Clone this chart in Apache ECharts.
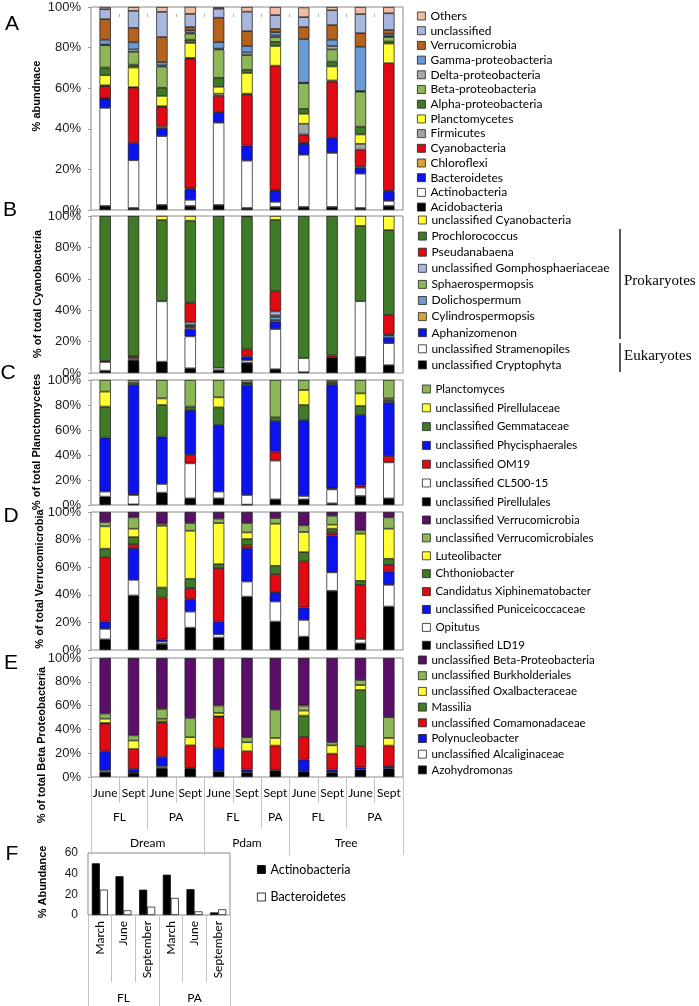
<!DOCTYPE html>
<html><head><meta charset="utf-8">
<script src="https://cdn.jsdelivr.net/npm/echarts@6/dist/echarts.min.js"></script>
<style>html,body{margin:0;padding:0;background:#fff}#c{width:699px;height:1006px}</style>
</head><body><div id="c"></div>
<script>
// ---------- categories ----------
const months    = ['June','Sept','June','Sept','June','Sept','Sept','June','Sept','June','Sept'];
const fractions = ['FL','FL','PA','PA','FL','FL','PA','FL','FL','PA','PA'];
const sites     = ['Dream','Dream','Dream','Dream','Pdam','Pdam','Pdam','Tree','Tree','Tree','Tree'];

// ---------- Panel A: phyla (% abundance), bottom -> top ----------
const A_Acidobacteria   = [2, 1, 2.5, 2, 2.5, 1, 1.5, 1.5, 1.5, 1, 2];
const A_Actinobacteria  = [48.3, 23.5, 33.9, 3, 40.5, 23.3, 2.5, 25.7, 26.6, 16.9, 2.5];
const A_Bacteroidetes   = [4.6, 8.4, 4, 5.2, 5.2, 7.4, 5.5, 5.4, 7.5, 2.9, 4.7];
const A_Chloroflexi     = [0.2, 0, 1, 0.4, 0, 0, 0.4, 0.4, 0, 0.8, 0.3];
const A_Cyanobacteria   = [5.9, 27.3, 9.3, 64, 8, 25, 61.2, 4.2, 27.6, 8.1, 62.8];
const A_Firmicutes      = [0.4, 0.3, 0.4, 0.3, 1.1, 0.6, 0, 5.3, 0.6, 2.9, 0];
const A_Planctomycetes  = [5, 9.7, 5.1, 7.4, 3.4, 10.2, 9.7, 4.9, 6.9, 4.6, 9.7];
const A_Alpha           = [3.8, 1.4, 4, 1.6, 4.4, 1.6, 2, 2.4, 2.4, 3.8, 1];
const A_Beta            = [11, 6.3, 10.5, 3, 14, 7.2, 2.4, 12.7, 6, 17.3, 2.2];
const A_Delta           = [0.3, 1.2, 0.5, 0.5, 0.4, 1.3, 0.8, 0.2, 1.7, 0.3, 0.5];
const A_Gamma           = [2.4, 3.5, 1.6, 1.2, 3.2, 3.2, 1.6, 21.5, 3.1, 21.8, 1.1];
const A_Verrucomicrobia = [10.1, 7.1, 12.4, 1.5, 12, 7.3, 1.6, 5.9, 7.2, 6.7, 1.9];
const A_unclassified    = [4.9, 8.4, 12.4, 6.5, 4.4, 9.6, 6.8, 4.9, 7.3, 9.4, 8.2];
const A_Others          = [1.1, 1.9, 2.4, 3.5, 0.8, 2.3, 4, 4.8, 1.6, 3.5, 3.1];

// ---------- Panel B: % of total Cyanobacteria ----------
const B_Cryptophyta   = [1.5, 8.3, 7.2, 3, 1.8, 6.5, 2.4, 0.5, 10, 10.3, 5];
const B_Stramenopiles = [5.5, 1, 38.5, 20.3, 1.5, 1.5, 25.6, 9, 0, 35.4, 14];
const B_Aphanizomenon = [0, 0, 0, 4.7, 0, 2.5, 4.7, 0, 0, 0, 3.5];
const B_Cylindro      = [0, 0, 0, 1.2, 0, 0, 1, 0, 0, 0, 0];
const B_Dolicho       = [0, 0, 0, 0.8, 0, 0, 2, 0, 0, 0, 1.5];
const B_Sphaero       = [0, 0, 0, 0.8, 0, 0, 1, 0, 0, 0, 0];
const B_Gompho        = [0, 0, 0, 1.7, 0, 0, 2.5, 0, 0, 0, 0.5];
const B_Pseudanabaena = [0.7, 1.5, 0, 12.2, 0, 4.5, 12.8, 0, 1.2, 0, 12.5];
const B_Prochloro     = [92.3, 89.2, 51.7, 52.3, 96.7, 84.5, 45.5, 90.5, 88.8, 48, 54];
const B_unclCyano     = [0, 0, 2.6, 3, 0, 0.5, 2.5, 0, 0, 6.3, 9];

// ---------- Panel C: % of total Planctomycetes ----------
const C_Pirellulales   = [6.7, 0.5, 9.9, 5.3, 5.3, 0.3, 4.5, 4.5, 1.3, 7.2, 5.3];
const C_CL500          = [4, 7.5, 6.9, 28, 5.4, 7.7, 31, 2.7, 11.2, 6.7, 28.8];
const C_OM19           = [0, 0.8, 0, 6.7, 0, 0, 7.2, 0, 0.8, 1.6, 5.1];
const C_Phycisphaerales= [43.2, 87.2, 37.9, 36, 53.3, 87.8, 24.5, 60.8, 82.7, 56.5, 42.9];
const C_Gemmataceae    = [24.8, 1.9, 25.3, 2.7, 14.1, 1.6, 2.9, 12, 1.4, 7.2, 1.9];
const C_Pirellulaceae  = [12, 0, 5.3, 0, 8, 0.5, 0, 12, 1, 10.1, 1.3];
const C_Planctomyces   = [9.3, 2.1, 14.7, 21.3, 13.9, 2.1, 29.9, 8, 1.6, 10.7, 14.7];

// ---------- Panel D: % of total Verrucomicrobia ----------
const D_LD19      = [7.7, 39.5, 4.4, 16.2, 9, 38.7, 20.6, 9.7, 42.9, 4.8, 31.5];
const D_Opitutus  = [7.6, 11.3, 1.6, 11.6, 2.4, 10.9, 14.5, 12.1, 13.3, 3.2, 15.7];
const D_Punicei   = [5.3, 23, 1.7, 9, 9.2, 24.2, 6.8, 9, 26.8, 0, 9.7];
const D_Candidatus= [46.7, 3, 30.3, 8, 38.7, 2, 13.1, 33.4, 2.2, 39.2, 4.8];
const D_Chthonio  = [6.1, 5, 7.3, 6.8, 2.9, 4.6, 6, 6.7, 2.7, 2.9, 4.4];
const D_Luteo     = [16.2, 6.1, 44.7, 34.8, 29.8, 4.8, 30.5, 14.6, 2.9, 34.2, 21.8];
const D_VerrBiales= [3.1, 8.2, 1.5, 5.6, 3.2, 6.8, 4.1, 4.8, 6.5, 2.4, 8.2];
const D_unclVerr  = [7.3, 3.9, 8.5, 8, 4.8, 8, 4.4, 9.7, 2.7, 13.3, 3.9];

// ---------- Panel E: % of total Beta Proteobacteria ----------
const E_Azohydro  = [4.2, 3.4, 7.6, 7.1, 4.8, 3.9, 5.6, 4.8, 3.9, 6.2, 7];
const E_Alcalig   = [1.4, 0.5, 1.4, 0, 0, 0, 0, 0, 0, 0, 0];
const E_Polynucl  = [16, 2.8, 7.8, 0.5, 19.6, 2.3, 0, 9.8, 2.3, 1.9, 2];
const E_Comamon   = [23.3, 16.8, 28.6, 19, 26.1, 15.4, 20.8, 19, 13.4, 17.9, 17.4];
const E_Massilia  = [0.5, 0, 1.4, 0, 0.5, 0, 0, 18, 0, 47.1, 0];
const E_Oxalbact  = [3.6, 7.1, 2, 6.8, 2.8, 7.6, 6.4, 4.2, 7, 4.2, 6.4];
const E_Burkhold  = [4.3, 4.4, 8.4, 16.2, 6.2, 4.2, 23.8, 4.2, 2.6, 4.2, 17.4];
const E_unclBeta  = [46.7, 65, 42.8, 50.4, 40, 66.6, 43.4, 40, 70.8, 18.5, 49.8];

// ---------- Panel F ----------
const F_months     = ['March','June','September','March','June','September'];
const F_fractions  = ['FL','FL','FL','PA','PA','PA'];
const F_Actino     = [50, 37.5, 24.5, 39, 25, 2.5];
const F_Bactero    = [24.5, 4.5, 8, 16.5, 3.5, 5.5];
const F_yTicks     = [0, 20, 40, 60];

// ---------- styles ----------
const COL = {
  black:'#000000', white:'#ffffff', blue:'#0b14ee', gold:'#d6a43a', red:'#e20a12',
  gray:'#a4a4a4', yellow:'#ffff33', dkgreen:'#3f7a26', ltgreen:'#8db658',
  steel:'#6b9bd4', brown:'#b6621f', lavender:'#a9b6de', peach:'#f0bba3', purple:'#5b0f6a'
};
const FONT_AX = '"Liberation Sans", Arial, sans-serif';
const FONT_LG = 'Lato, "Open Sans", sans-serif';
const BOX = '#8a8a8a';

const panelA = [
  ['Acidobacteria', A_Acidobacteria, COL.black],
  ['Actinobacteria', A_Actinobacteria, COL.white],
  ['Bacteroidetes', A_Bacteroidetes, COL.blue],
  ['Chloroflexi', A_Chloroflexi, COL.gold],
  ['Cyanobacteria', A_Cyanobacteria, COL.red],
  ['Firmicutes', A_Firmicutes, COL.gray],
  ['Planctomycetes', A_Planctomycetes, COL.yellow],
  ['Alpha-proteobacteria', A_Alpha, COL.dkgreen],
  ['Beta-proteobacteria', A_Beta, COL.ltgreen],
  ['Delta-proteobacteria', A_Delta, '#a9a9a9'],
  ['Gamma-proteobacteria', A_Gamma, COL.steel],
  ['Verrucomicrobia', A_Verrucomicrobia, COL.brown],
  ['unclassified', A_unclassified, COL.lavender],
  ['Others', A_Others, COL.peach]
];
const panelB = [
  ['unclassified Cryptophyta', B_Cryptophyta, COL.black],
  ['unclassified Stramenopiles', B_Stramenopiles, COL.white],
  ['Aphanizomenon', B_Aphanizomenon, COL.blue],
  ['Cylindrospermopsis', B_Cylindro, COL.gold],
  ['Dolichospermum', B_Dolicho, COL.steel],
  ['Sphaerospermopsis', B_Sphaero, COL.ltgreen],
  ['unclassified Gomphosphaeriaceae', B_Gompho, COL.lavender],
  ['Pseudanabaena', B_Pseudanabaena, COL.red],
  ['Prochlorococcus', B_Prochloro, COL.dkgreen],
  ['unclassified Cyanobacteria', B_unclCyano, COL.yellow]
];
const panelC = [
  ['unclassified Pirellulales', C_Pirellulales, COL.black],
  ['unclassified CL500-15', C_CL500, COL.white],
  ['unclassified OM19', C_OM19, COL.red],
  ['unclassified Phycisphaerales', C_Phycisphaerales, COL.blue],
  ['unclassified Gemmataceae', C_Gemmataceae, COL.dkgreen],
  ['unclassified Pirellulaceae', C_Pirellulaceae, COL.yellow],
  ['Planctomyces', C_Planctomyces, COL.ltgreen]
];
const panelD = [
  ['unclassified LD19', D_LD19, COL.black],
  ['Opitutus', D_Opitutus, COL.white],
  ['unclassified Puniceicoccaceae', D_Punicei, COL.blue],
  ['Candidatus Xiphinematobacter', D_Candidatus, COL.red],
  ['Chthoniobacter', D_Chthonio, COL.dkgreen],
  ['Luteolibacter', D_Luteo, COL.yellow],
  ['unclassified Verrucomicrobiales', D_VerrBiales, COL.ltgreen],
  ['unclassified Verrucomicrobia', D_unclVerr, COL.purple]
];
const panelE = [
  ['Azohydromonas', E_Azohydro, COL.black],
  ['unclassified Alcaliginaceae', E_Alcalig, COL.white],
  ['Polynucleobacter', E_Polynucl, COL.blue],
  ['unclassified Comamonadaceae', E_Comamon, COL.red],
  ['Massilia', E_Massilia, COL.dkgreen],
  ['unclassified Oxalbacteraceae', E_Oxalbact, COL.yellow],
  ['unclassified Burkholderiales', E_Burkhold, COL.ltgreen],
  ['unclassified Beta-Proteobacteria', E_unclBeta, COL.purple]
];

// ---------- layout ----------
const L = 91, W = 312;
const grids = [
  {left:L, top:7,   width:W, height:203},
  {left:L, top:216, width:W, height:157},
  {left:L, top:380, width:W, height:125},
  {left:L, top:512, width:W, height:138},
  {left:L, top:658, width:W, height:119},
  {left:88, top:853, width:142, height:62}
].map(g => Object.assign({show:true, borderColor:BOX, borderWidth:1, backgroundColor:'transparent'}, g));

function groupsOf(keys, labels){
  const g = []; let s = 0;
  for (let i = 1; i <= keys.length; i++) {
    if (i === keys.length || keys[i] !== keys[s]) { g.push({start:s, end:i, center:(s+i)/2, label:labels[s]}); s = i; }
  }
  return g;
}
const rowFrac = groupsOf(sites.map((s,i)=>s+'|'+fractions[i]), fractions);
const rowSite = groupsOf(sites, sites);
const rowFracF = groupsOf(F_fractions, F_fractions);

const tickLine = {lineStyle:{color:'#c4c4c4', width:1}};
function hiddenCat(gi){
  return {type:'category', gridIndex:gi, data:months, boundaryGap:true,
    axisLine:{show:false, onZero:false}, axisTick:{show:false}, axisLabel:{show:false}};
}
function groupAxis(gi, groups, n, offset, len, margin){
  const map = {}; groups.forEach(g => map[g.center] = g.label);
  return {type:'value', gridIndex:gi, min:0, max:n, position:'bottom', offset:offset,
    axisLine:{show:false, onZero:false}, splitLine:{show:false},
    axisTick:Object.assign({show:true, length:len, customValues:[0].concat(groups.map(g=>g.end))}, tickLine),
    axisLabel:{show:true, margin:margin, customValues:groups.map(g=>g.center),
      formatter:v => (map[v] !== undefined ? map[v] : ''), fontFamily:FONT_LG, fontSize:12, color:'#000'}};
}

const xAxis = [
  hiddenCat(0),
  Object.assign(hiddenCat(0), {offset:-10, axisTick:{show:true, length:3, interval:0, lineStyle:{color:'#b0b0b0'}}}),
  hiddenCat(1), hiddenCat(2), hiddenCat(3),
  {type:'category', gridIndex:4, data:months, boundaryGap:true,
    axisLine:{show:false, onZero:false},
    axisTick:Object.assign({show:true, length:26, interval:0}, tickLine),
    axisLabel:{show:true, interval:0, margin:10, fontFamily:FONT_LG, fontSize:12, color:'#000'}},
  groupAxis(4, rowFrac, months.length, 26, 26, 8),
  groupAxis(4, rowSite, months.length, 52, 26, 8),
  {type:'category', gridIndex:5, data:F_months, boundaryGap:true,
    axisLine:{show:false, onZero:false},
    axisTick:Object.assign({show:true, length:67, interval:0}, tickLine),
    axisLabel:{show:true, interval:0, rotate:90, margin:6, fontFamily:FONT_LG, fontSize:12, color:'#000'}},
  groupAxis(5, rowFracF, F_months.length, 67, 26, 10)
];

function pctAxis(gi){
  return {type:'value', gridIndex:gi, min:0, max:100, interval:20,
    axisLine:{show:false, onZero:false}, splitLine:{show:false},
    axisTick:{show:true, length:3, lineStyle:{color:'#999'}},
    axisLabel:{formatter:'{value}%', margin:10, fontFamily:FONT_AX, fontSize:13, color:'#1a1a1a'}};
}
const yAxis = [pctAxis(0), pctAxis(1), pctAxis(2), pctAxis(3), pctAxis(4),
  {type:'value', gridIndex:5, min:F_yTicks[0], max:F_yTicks[F_yTicks.length-1], interval:20,
    axisLine:{show:false, onZero:false}, splitLine:{show:false}, axisTick:{show:false},
    axisLabel:{margin:10, fontFamily:FONT_AX, fontSize:12, color:'#1a1a1a'}}];

const series = [];
const panels = [[panelA,0,0],[panelB,2,1],[panelC,3,2],[panelD,4,3],[panelE,5,4]];
panels.forEach(([defs, xi, yi], p) => {
  defs.forEach(([name, vals, color]) => {
    series.push({type:'bar', name:name, stack:'s'+p, xAxisIndex:xi, yAxisIndex:yi,
      barWidth:'40%', data:vals.map(v => v === 0 ? '-' : v),
      itemStyle:{color:color, borderColor:'#111', borderWidth:0.7}});
  });
});
series.push({type:'bar', name:'Actinobacteria', xAxisIndex:8, yAxisIndex:5, barWidth:8, barGap:'0%',
  data:F_Actino, itemStyle:{color:'#000', borderColor:'#000', borderWidth:0.7}});
series.push({type:'bar', name:'Bacteroidetes', xAxisIndex:8, yAxisIndex:5, barWidth:8, barGap:'0%',
  data:F_Bactero, itemStyle:{color:'#fff', borderColor:'#000', borderWidth:0.7}});

function mkLegend(defs, left, top, gap, fs){
  return {orient:'vertical', left:left, top:top, padding:0, itemGap:gap, itemWidth:8, itemHeight:8,
    icon:'rect', selectedMode:false,
    textStyle:{fontFamily:FONT_LG, fontSize:fs, lineHeight:fs, color:'#000'},
    data:defs.slice().reverse().map(d => ({name:d[0], itemStyle:{color:d[2], borderColor:'#222', borderWidth:0.8}}))};
}
const legend = [
  mkLegend(panelA, 417, 10, 2.7, 12),
  mkLegend(panelB, 418, 214, 4.1, 12),
  mkLegend(panelC, 422, 383, 6.8, 11.5),
  mkLegend(panelD, 422, 514, 5.9, 11.5),
  mkLegend(panelE, 418, 654, 3.7, 11.5),
  {orient:'vertical', left:257, top:863, padding:0, itemGap:14.5, itemWidth:8, itemHeight:8, icon:'rect',
    selectedMode:false, textStyle:{fontFamily:FONT_LG, fontSize:12.5, lineHeight:12.5, color:'#000'},
    data:[{name:'Actinobacteria', itemStyle:{color:'#000', borderColor:'#000', borderWidth:0.8}},
          {name:'Bacteroidetes', itemStyle:{color:'#fff', borderColor:'#000', borderWidth:0.8}}]}
];

function txt(text, x, y, font, rot, align){
  return {type:'text', x:x, y:y, rotation:rot||0, silent:true,
    style:{text:text, font:font, fill:'#000', align:align||'center', verticalAlign:'middle',
      textAlign:align||'center', textVerticalAlign:'middle'}};
}
const R = Math.PI/2;
const fTitle = 'bold 11px ' + FONT_AX;
const fLetter = '21px ' + FONT_AX;
const fSerif = '15px "Liberation Serif", "DejaVu Serif", serif';
const graphic = [
  txt('A', 12, 24, fLetter), txt('B', 10, 210, fLetter), txt('C', 8, 373, fLetter),
  txt('D', 11, 516, fLetter), txt('E', 11, 663, fLetter), txt('F', 12, 854, fLetter),
  txt('% abundnace', 37, 96, fTitle, R),
  txt('% of total Cyanobacteria', 38, 294, fTitle, R),
  txt('% of total Planctomycetes', 37, 442, fTitle, R),
  txt('% of total Verrucomicrobia', 40, 579, fTitle, R),
  txt('% of total Beta Proteobacteria', 42, 745, fTitle, R),
  txt('% Abundance', 43, 882, fTitle, R),
  {type:'line', silent:true, shape:{x1:620, y1:229, x2:620, y2:339}, style:{stroke:'#000', lineWidth:1.3}},
  {type:'line', silent:true, shape:{x1:620, y1:343, x2:620, y2:372}, style:{stroke:'#000', lineWidth:1.3}},
  txt('Prokaryotes', 624, 281, fSerif, 0, 'left'),
  txt('Eukaryotes', 624, 356, fSerif, 0, 'left')
];

const chart = echarts.init(document.getElementById('c'), null, {renderer:'canvas'});
chart.setOption({animation:false, backgroundColor:'#fff', grid:grids, xAxis:xAxis, yAxis:yAxis,
  series:series, legend:legend, graphic:graphic, tooltip:{show:false}});
</script></body></html>
